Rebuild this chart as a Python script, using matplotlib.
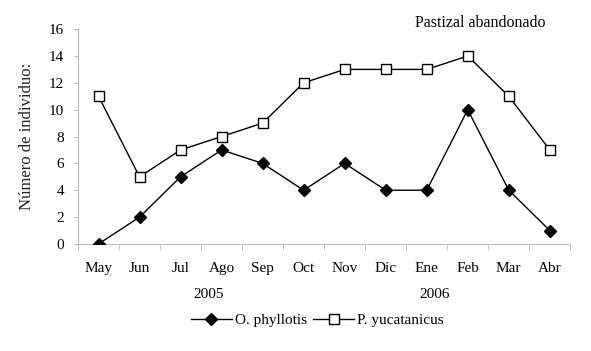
import matplotlib
matplotlib.use("Agg")
import matplotlib.pyplot as plt
import matplotlib.transforms as mtransforms

plt.rcParams['font.family'] = ['Liberation Serif', 'DejaVu Serif']

months = ['May', 'Jun', 'Jul', 'Ago', 'Sep', 'Oct', 'Nov', 'Dic', 'Ene', 'Feb', 'Mar', 'Abr']
o_phyllotis = [0, 2, 5, 7, 6, 4, 6, 4, 4, 10, 4, 1]
p_yucatanicus = [11, 5, 7, 8, 9, 12, 13, 13, 13, 14, 11, 7]
years = ['2005', '2006']
year_pos = [2.68, 8.2]

fig = plt.figure(figsize=(5.91, 3.51), dpi=100)
ax = fig.add_axes([0.132, 0.305, 0.833, 0.612])

x = list(range(len(months)))
ax.plot(x, o_phyllotis, color='black', linewidth=1, marker='D', markersize=6,
        markerfacecolor='black', markeredgecolor='black', label='O. phyllotis')
ax.plot(x, p_yucatanicus, color='black', linewidth=1, marker='s', markersize=7,
        markerfacecolor='white', markeredgecolor='black', label='P. yucatanicus')

ax.set_xlim(-0.5, len(months) - 0.5)
ax.set_ylim(0, 16)
ax.set_yticks(range(0, 17, 2))
ax.set_xticks(x)
ax.set_xticklabels(months, fontsize=11)
ax.set_xticks([i - 0.5 for i in range(len(months) + 1)], minor=True)
ax.tick_params(axis='x', which='major', length=0, pad=13)
ax.tick_params(axis='x', which='minor', length=4, color='#bbbbbb', direction='out')
ax.tick_params(axis='y', length=3, color='#bbbbbb', labelsize=11, pad=7)

for side in ['top', 'right']:
    ax.spines[side].set_visible(False)
for side in ['left', 'bottom']:
    ax.spines[side].set_color('#bbbbbb')
    ax.spines[side].set_linewidth(0.8)
ax.spines['bottom'].set_zorder(0)

ax.set_ylabel('Número de individuo:', fontsize=12, color='#222222', labelpad=10)

trans = mtransforms.blended_transform_factory(ax.transData, ax.transAxes)
for yr, pos in zip(years, year_pos):
    ax.text(pos, -0.237, yr, transform=trans, ha='center', va='center', fontsize=11)

fig.text(0.813, 0.935, 'Pastizal abandonado', ha='center', va='center', fontsize=11.5)

fig.legend(loc='center', bbox_to_anchor=(0.537, 0.088), ncol=2, frameon=False,
           fontsize=11, handlelength=2.7, handletextpad=0.2, columnspacing=0.4)

fig.savefig('out.png', dpi=100)
